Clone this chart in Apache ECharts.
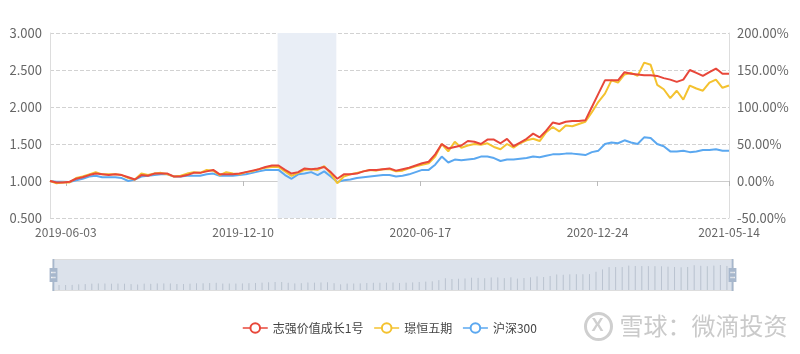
<!DOCTYPE html>
<html><head><meta charset="utf-8">
<script src="https://cdn.jsdelivr.net/npm/echarts@6/dist/echarts.min.js"></script>
<style>html,body{margin:0;padding:0;background:#fff}#c{width:800px;height:354px}</style>
</head><body><div id="c"></div>
<script>
const dates = [
'2019-05-17','2019-05-24','2019-05-31','2019-06-07','2019-06-14','2019-06-21','2019-06-28','2019-07-05','2019-07-12','2019-07-19',
'2019-07-26','2019-08-02','2019-08-09','2019-08-16','2019-08-23','2019-08-30','2019-09-06','2019-09-13','2019-09-20','2019-09-27',
'2019-10-04','2019-10-11','2019-10-18','2019-10-25','2019-11-01','2019-11-08','2019-11-15','2019-11-22','2019-11-29','2019-12-06',
'2019-12-13','2019-12-20','2019-12-27','2020-01-03','2020-01-10','2020-01-17','2020-01-24','2020-01-31','2020-02-07','2020-02-14',
'2020-02-21','2020-02-28','2020-03-06','2020-03-13','2020-03-20','2020-03-27','2020-04-03','2020-04-10','2020-04-17','2020-04-24',
'2020-05-01','2020-05-08','2020-05-15','2020-05-22','2020-05-29','2020-06-05','2020-06-12','2020-06-19','2020-06-26','2020-07-03',
'2020-07-10','2020-07-17','2020-07-24','2020-07-31','2020-08-07','2020-08-14','2020-08-21','2020-08-28','2020-09-04','2020-09-11',
'2020-09-18','2020-09-25','2020-10-02','2020-10-09','2020-10-16','2020-10-23','2020-10-30','2020-11-06','2020-11-13','2020-11-20',
'2020-11-27','2020-12-04','2020-12-11','2020-12-18','2020-12-25','2021-01-01','2021-01-08','2021-01-15','2021-01-22','2021-01-29',
'2021-02-05','2021-02-12','2021-02-19','2021-02-26','2021-03-05','2021-03-12','2021-03-19','2021-03-26','2021-04-02','2021-04-09',
'2021-04-16','2021-04-23','2021-04-30','2021-05-07','2021-05-14'];

const zhiqiang = [
1.000,0.980,0.980,0.990,1.030,1.050,1.080,1.100,1.090,1.080,
1.090,1.080,1.050,1.020,1.080,1.070,1.100,1.100,1.100,1.060,
1.060,1.080,1.110,1.110,1.130,1.150,1.090,1.090,1.090,1.100,
1.120,1.140,1.160,1.190,1.210,1.210,1.150,1.100,1.120,1.170,
1.160,1.170,1.190,1.120,1.030,1.090,1.090,1.100,1.130,1.150,
1.150,1.160,1.170,1.140,1.160,1.180,1.210,1.240,1.260,1.360,
1.500,1.440,1.460,1.480,1.540,1.530,1.500,1.560,1.560,1.510,
1.570,1.470,1.520,1.570,1.640,1.590,1.680,1.790,1.770,1.800,
1.810,1.810,1.820,2.000,2.180,2.360,2.360,2.360,2.470,2.450,
2.440,2.430,2.430,2.420,2.390,2.370,2.340,2.370,2.500,2.460,
2.420,2.470,2.520,2.450,2.450];

const jingheng = [
1.000,0.970,0.980,0.980,1.040,1.060,1.090,1.120,1.090,1.090,
1.090,1.080,1.040,1.020,1.100,1.080,1.100,1.110,1.090,1.060,
1.070,1.100,1.120,1.110,1.150,1.140,1.080,1.120,1.100,1.090,
1.120,1.130,1.160,1.180,1.190,1.190,1.130,1.070,1.110,1.150,
1.160,1.150,1.200,1.100,0.970,1.060,1.090,1.110,1.130,1.150,
1.140,1.160,1.160,1.130,1.140,1.170,1.200,1.220,1.240,1.330,
1.500,1.400,1.530,1.450,1.480,1.500,1.490,1.510,1.460,1.430,
1.500,1.450,1.510,1.550,1.570,1.540,1.660,1.730,1.670,1.750,
1.740,1.770,1.800,1.930,2.070,2.180,2.360,2.330,2.440,2.460,
2.420,2.600,2.570,2.300,2.240,2.120,2.220,2.100,2.290,2.250,
2.220,2.330,2.370,2.260,2.290];

const hs300 = [
1.000,0.990,0.990,0.985,1.010,1.030,1.060,1.070,1.050,1.050,
1.050,1.040,1.000,1.020,1.060,1.070,1.080,1.090,1.090,1.060,
1.060,1.070,1.070,1.070,1.090,1.100,1.070,1.070,1.070,1.080,
1.090,1.110,1.130,1.150,1.150,1.150,1.080,1.030,1.090,1.100,
1.120,1.080,1.130,1.060,0.985,1.010,1.020,1.040,1.050,1.060,
1.070,1.080,1.080,1.060,1.070,1.090,1.120,1.150,1.150,1.220,
1.330,1.250,1.290,1.280,1.290,1.300,1.330,1.330,1.310,1.270,
1.290,1.290,1.300,1.310,1.330,1.320,1.340,1.360,1.360,1.370,
1.370,1.360,1.350,1.390,1.410,1.500,1.520,1.510,1.550,1.520,
1.500,1.590,1.580,1.500,1.470,1.400,1.400,1.410,1.390,1.400,
1.420,1.420,1.430,1.410,1.410];

const seriesNames = ['志强价值成长1号','璟恒五期','沪深300'];
const xTickLabels = ['2019-06-03','2019-12-10','2020-06-17','2020-12-24','2021-05-14'];
const xMin = '2019-05-17', xMax = '2021-05-14';
const shadeRange = ['2020-01-16','2020-03-19'];
const leftTicks = {min:0.5, max:3.0, interval:0.5};
const rightTicks = {min:-50, max:200, interval:50};

function ts(s){ const p = s.split('-').map(Number); return Date.UTC(p[0], p[1]-1, p[2]); }
function fmt(v){ const d = new Date(v); const z = n => (n<10?'0':'')+n; return d.getUTCFullYear()+'-'+z(d.getUTCMonth()+1)+'-'+z(d.getUTCDate()); }
function pairs(vals){ return dates.map((d,i)=>[ts(d), vals[i]]); }
// weekly NAV series: gaps between the weekly points (connected)
function gapped(vals){
  const out = [];
  dates.forEach((d,i)=>{
    out.push([ts(d), vals[i]]);
    if(i < dates.length-1){ out.push([(ts(d)+ts(dates[i+1]))/2, null]); }
  });
  return out;
}

const chart = echarts.init(document.getElementById('c'), null, {renderer:'canvas'});
const font = 'Noto Sans CJK SC';
const labelColor = '#666';
const symStyle = {borderWidth:1};
chart.setOption({
  animation:false,
  textStyle:{fontFamily:font},
  color:['#e8473a','#f4c22f','#5ba8f0'],
  grid:{left:50, right:71, top:33, bottom:136},
  legend:{
    data:seriesNames, bottom:15, left:237, itemGap:10, itemWidth:25, itemHeight:12,
    itemStyle:{borderWidth:1}, lineStyle:{width:1.5},
    textStyle:{color:'#444', fontSize:12, fontFamily:font}
  },
  xAxis:{
    type:'value', min:ts(xMin), max:ts(xMax), scale:true,
    axisLine:{lineStyle:{color:'#ccc'}},
    axisTick:{show:true, customValues:xTickLabels.map(ts), lineStyle:{color:'#bbb'}},
    axisLabel:{customValues:xTickLabels.map(ts), color:labelColor, fontSize:12, margin:8,
      showMinLabel:true, showMaxLabel:true, formatter:fmt},
    splitLine:{show:false}
  },
  yAxis:[{
    type:'value', min:leftTicks.min, max:leftTicks.max, interval:leftTicks.interval,
    axisLine:{show:true, lineStyle:{color:'#ddd'}},
    axisTick:{show:false},
    axisLabel:{color:labelColor, fontSize:13, formatter:v=>v.toFixed(3)},
    splitLine:{lineStyle:{type:'dashed', color:'#d2d2d2'}}
  },{
    type:'value', min:rightTicks.min, max:rightTicks.max, interval:rightTicks.interval,
    axisLine:{show:true, lineStyle:{color:'#ddd'}},
    axisTick:{show:false},
    axisLabel:{color:labelColor, fontSize:13, formatter:v=>v.toFixed(2)+'%'},
    splitLine:{show:false}
  }],
  dataZoom:[{
    type:'slider', xAxisIndex:0, left:50, right:69, top:259, height:32,
    showDetail:false, brushSelect:false, moveHandleSize:0,
    backgroundColor:'rgba(47,69,84,0)', borderColor:'#ddd',
    fillerColor:'rgba(167,183,204,0.4)',
    handleIcon:'path://M8.2,13.6V3.9H6.3v9.7H3.1v14.9h3.3v9.7h1.8v-9.7h3.3V13.6H8.2z M9.7,24.4H4.8v-1.4h4.9V24.4z M9.7,19.1H4.8v-1.4h4.9V19.1z',
    handleSize:'100%',
    handleStyle:{color:'#a7b7cc', borderColor:'#a7b7cc', borderWidth:0},
    moveHandleStyle:{opacity:0},
    dataBackground:{lineStyle:{color:'#2f4554', width:0.5, opacity:0.3}, areaStyle:{color:'rgba(47,69,84,0.3)', opacity:0.3}},
    selectedDataBackground:{lineStyle:{color:'#2f4554', width:0.5, opacity:0.3}, areaStyle:{color:'rgba(47,69,84,0.3)', opacity:0.3}},
    emphasis:{handleStyle:{color:'#a7b7cc'}}
  }],
  series:[{
    name:seriesNames[0], type:'line', data:gapped(zhiqiang), connectNulls:true,
    showSymbol:false, symbol:'emptyCircle', symbolSize:10, itemStyle:symStyle, z:4, lineStyle:{width:2},
    markArea:{silent:true, itemStyle:{color:'#e9eef6'}, data:[[{xAxis:ts(shadeRange[0])},{xAxis:ts(shadeRange[1])}]]}
  },{
    name:seriesNames[1], type:'line', data:pairs(jingheng),
    showSymbol:false, symbol:'emptyCircle', symbolSize:10, itemStyle:symStyle, z:3, lineStyle:{width:2}
  },{
    name:seriesNames[2], type:'line', data:pairs(hs300),
    showSymbol:false, symbol:'emptyCircle', symbolSize:10, itemStyle:symStyle, z:2, lineStyle:{width:2}
  }],
  graphic:[{
    type:'group', left:583, top:311, silent:true,
    children:[
      {type:'circle', shape:{cx:16, cy:16, r:13}, style:{fill:'none', stroke:'#cfcfcf', lineWidth:3}},
      {type:'text', style:{x:9, y:7, text:'X', fill:'#cfcfcf', font:'bold 18px sans-serif'}},
      {type:'text', style:{x:37, y:3, text:'雪球：微滴投资', fill:'#cacaca', font:'24px "Noto Sans CJK SC"'}}
    ]
  }]
});
</script></body></html>
